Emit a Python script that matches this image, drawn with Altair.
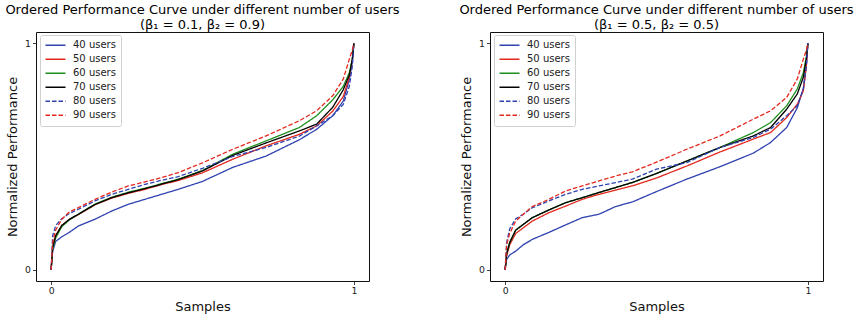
import altair as alt
import pandas as pd

xs = [0, 0.005, 0.015, 0.035, 0.06, 0.09, 0.145, 0.2, 0.255, 0.31, 0.365, 0.42,
      0.5, 0.6, 0.71, 0.82, 0.877, 0.93, 0.965, 0.985, 0.995, 1.0]
series = ["40 users", "50 users", "60 users", "70 users", "80 users", "90 users"]
colors = ["#2f43b0", "#e3281e", "#1e8f1e", "#000000", "#2f43b0", "#e3281e"]
dashes = [[1, 0], [1, 0], [1, 0], [1, 0], [4.5, 2], [4.5, 2]]

# Left panel (beta1 = 0.1, beta2 = 0.9)
left_40 = [0, .08, .125, .145, .165, .193, .223, .259, .289, .311, .333, .355,
           .39, .452, .502, .574, .62, .68, .745, .84, .92, 1]
left_50 = [0, .10, .15, .195, .222, .243, .287, .316, .337, .355, .376, .394,
           .428, .488, .547, .598, .635, .70, .765, .85, .93, 1]
left_60 = [0, .09, .14, .19, .22, .245, .29, .32, .342, .36, .38, .40,
           .438, .51, .569, .628, .68, .75, .81, .87, .93, 1]
left_70 = [0, .10, .15, .195, .222, .245, .288, .318, .34, .358, .378, .398,
           .436, .505, .56, .613, .643, .717, .795, .86, .93, 1]
left_80 = [0, .15, .195, .225, .248, .267, .304, .333, .355, .377, .395, .411,
           .448, .50, .54, .59, .635, .68, .73, .81, .90, 1]
left_90 = [0, .12, .175, .223, .255, .274, .311, .343, .37, .388, .407, .429,
           .472, .532, .591, .658, .702, .768, .842, .93, .97, 1]

# Right panel (beta1 = 0.5, beta2 = 0.5)
right_40 = [0, .045, .065, .082, .11, .134, .165, .198, .23, .245, .279, .299,
            .345, .40, .455, .515, .562, .628, .715, .80, .90, 1]
right_50 = [0, .06, .11, .16, .185, .215, .252, .281, .311, .333, .352, .37,
            .405, .458, .52, .577, .606, .672, .731, .79, .90, 1]
right_60 = [0, .07, .12, .175, .20, .23, .264, .296, .318, .341, .363, .385,
            .425, .48, .54, .606, .65, .724, .798, .87, .94, 1]
right_70 = [0, .07, .12, .175, .20, .23, .264, .296, .318, .341, .363, .385,
            .425, .48, .54, .591, .628, .709, .776, .85, .93, 1]
right_80 = [0, .12, .18, .225, .245, .274, .304, .333, .355, .37, .385, .40,
            .444, .473, .54, .584, .621, .68, .724, .798, .90, 1]
right_90 = [0, .11, .16, .215, .245, .279, .311, .348, .37, .392, .414, .432,
            .475, .532, .591, .665, .702, .761, .842, .93, .97, 1]

left_vals = [left_40, left_50, left_60, left_70, left_80, left_90]
right_vals = [right_40, right_50, right_60, right_70, right_80, right_90]


def make_df(vals):
    rows = []
    for name, ys in zip(series, vals):
        for x, y in zip(xs, ys):
            rows.append({"x": x, "y": y, "series": name})
    return pd.DataFrame(rows)


FONT = "DejaVu Sans"

legend = alt.Legend(
    orient="none", legendX=4, legendY=3, title=None,
    symbolType="stroke", symbolSize=400, symbolStrokeWidth=1.5,
    labelFont=FONT, labelFontSize=10, labelColor="#222222", labelOffset=6.5,
    padding=4.5, strokeColor="#d0d0d0", fillColor="white", cornerRadius=2,
    rowPadding=2, clipHeight=11.7,
)


def panel(vals, subtitle):
    df = make_df(vals)
    return alt.Chart(df).mark_line(strokeWidth=1.3).encode(
        x=alt.X("x:Q",
                scale=alt.Scale(domain=[-0.05, 1.05], nice=False, zero=False),
                axis=alt.Axis(values=[0, 1], format="d", title="Samples",
                              labelFlush=False)),
        y=alt.Y("y:Q",
                scale=alt.Scale(domain=[-0.05, 1.05], nice=False, zero=False),
                axis=alt.Axis(values=[0, 1], format="d",
                              title="Normalized Performance", labelFlush=False)),
        color=alt.Color("series:N", scale=alt.Scale(domain=series, range=colors),
                        legend=legend),
        strokeDash=alt.StrokeDash("series:N",
                                  scale=alt.Scale(domain=series, range=dashes),
                                  legend=legend),
        order=alt.Order("x:Q"),
    ).properties(
        width=333, height=249,
        title=alt.TitleParams(
            text=["Ordered Performance Curve under different number of users",
                  subtitle],
            font=FONT, fontSize=13, fontWeight="normal", color="black",
            anchor="middle", offset=0, lineHeight=15,
        ),
    )


left = panel(left_vals, "(β₁ = 0.1, β₂ = 0.9)")
right = panel(right_vals, "(β₁ = 0.5, β₂ = 0.5)")

chart = alt.hconcat(left, right, spacing=57).resolve_scale(
    color="independent", strokeDash="independent"
).resolve_legend(
    color="independent", strokeDash="independent"
).properties(
    padding={"left": 4, "top": 3, "right": 0, "bottom": 0},
    background="white",
).configure_view(
    stroke="#111111", strokeWidth=1,
).configure_axis(
    grid=False, domain=False, ticks=True, tickColor="#111111", tickSize=3.5,
    tickWidth=0.8, labelFont=FONT, labelFontSize=9.3, labelColor="#222222",
    labelPadding=2, titleFont=FONT, titleFontSize=13, titleFontWeight="normal",
    titleColor="#111111",
).configure_axisY(
    titlePadding=5,
).configure_axisX(
    titlePadding=5,
)

chart.save("out.html", embed_options={"renderer": "svg", "actions": False})
